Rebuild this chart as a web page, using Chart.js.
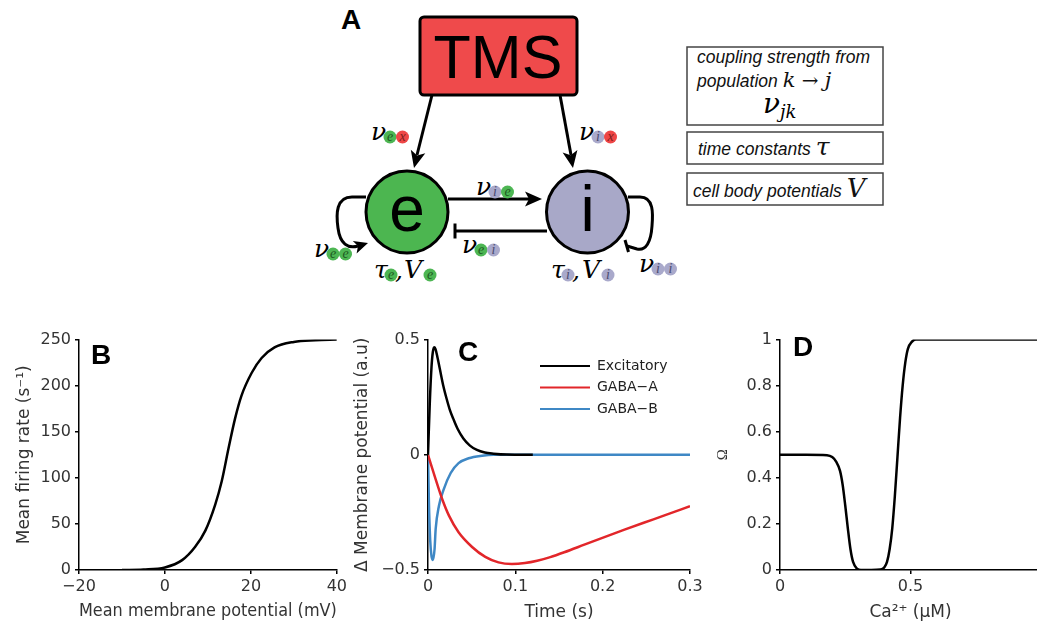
<!DOCTYPE html>
<html>
<head>
<meta charset="utf-8">
<script src="https://cdn.jsdelivr.net/npm/chart.js@4.4.0/dist/chart.umd.min.js"></script>
<style>
body { margin:0; background:#fff; width:1037px; height:629px; overflow:hidden; position:relative; }
canvas { position:absolute; }
svg { position:absolute; left:0; top:0; }
.lbl { position:absolute; font:bold 28px 'Liberation Sans'; line-height:28px; color:#000; }
.m { font:italic 25px 'DejaVu Serif'; fill:#000; }
.s { font:italic 14px 'Liberation Serif'; text-anchor:middle; }
.bx { font:italic 17.5px 'Liberation Sans'; fill:#111; }
</style>
</head>
<body>
<svg id="diagram" width="1037" height="320"></svg>
<canvas id="chartB" width="350" height="300" style="left:0;top:326px"></canvas>
<canvas id="chartC" width="365" height="300" style="left:345px;top:326px"></canvas>
<canvas id="chartD" width="350" height="300" style="left:700px;top:326px"></canvas>
<div class="lbl" style="left:341px;top:6px">A</div>
<div class="lbl" style="left:91px;top:341px">B</div>
<div class="lbl" style="left:458px;top:338px">C</div>
<div class="lbl" style="left:793px;top:333px">D</div>
<script>
// B: sigmoid firing rate
var bVoltage = [-10, -5, 0, 4, 7, 9.4, 11.7, 13.2, 14.8, 16.3, 17.8, 20.2, 22.5, 25.5, 30, 35, 40];
var bRate = [0, 0.5, 2.8, 10.7, 24.9, 42.7, 71, 96, 132, 164, 189, 214, 230, 241.5, 247.5, 249.3, 250];

// C: postsynaptic responses
var excTime = [0, 0.002, 0.004, 0.0055, 0.007, 0.0085, 0.011, 0.0137, 0.0175, 0.0214, 0.025, 0.029, 0.034, 0.0405, 0.048, 0.056, 0.065, 0.075, 0.09, 0.12];
var excValue = [0, 0.22, 0.38, 0.445, 0.467, 0.46, 0.42, 0.37, 0.3, 0.242, 0.195, 0.156, 0.112, 0.071, 0.04, 0.021, 0.01, 0.005, 0.001, 0];
var gabaATime = [0, 0.0088, 0.0163, 0.024, 0.035, 0.0505, 0.0656, 0.0807, 0.096, 0.111, 0.125, 0.14, 0.156, 0.179, 0.202, 0.225, 0.247, 0.27, 0.3];
var gabaAValue = [0, -0.107, -0.193, -0.264, -0.336, -0.4, -0.443, -0.467, -0.474, -0.47, -0.46, -0.444, -0.423, -0.39, -0.357, -0.325, -0.295, -0.264, -0.223];
var gabaBTime = [0, 0.001, 0.0025, 0.004, 0.0057, 0.0075, 0.0088, 0.0125, 0.018, 0.026, 0.035, 0.0466, 0.062, 0.075, 0.3];
var gabaBValue = [0, -0.2, -0.37, -0.44, -0.457, -0.41, -0.321, -0.222, -0.15, -0.079, -0.036, -0.015, -0.004, 0, 0];
var seriesNames = ['Excitatory', 'GABA\u2212A', 'GABA\u2212B'];

// D: plasticity function
var dCalcium = [0, 0.1, 0.18, 0.2, 0.215, 0.23, 0.24, 0.25, 0.26, 0.27, 0.28, 0.295, 0.31, 0.35, 0.385, 0.4, 0.41, 0.42, 0.43, 0.44, 0.45, 0.46, 0.47, 0.48, 0.49, 0.505, 0.52, 0.6, 0.8, 1.0];
var dOmega = [0.5, 0.5, 0.498, 0.49, 0.47, 0.43, 0.37, 0.28, 0.18, 0.09, 0.035, 0.006, 0, 0, 0.002, 0.012, 0.035, 0.09, 0.18, 0.32, 0.49, 0.66, 0.8, 0.9, 0.96, 0.99, 1, 1, 1, 1];

function pts(xs, ys) { return xs.map(function(x, i) { return {x: x, y: ys[i]}; }); }
function fmt(v) { return String(+v.toFixed(3)).replace('-', '\u2212'); }

var tickFont = {family: 'DejaVu Sans', size: 16};
var titleFont = {family: 'DejaVu Sans', size: 17};

function scale(min, max, step, title, size, isX, titlePad, tFont) {
  return {
    type: 'linear', min: min, max: max,
    ticks: {stepSize: step, color: '#333', font: tickFont, padding: isX ? 3 : 4, maxRotation: 0, autoSkip: false, callback: fmt},
    grid: {drawOnChartArea: false, drawTicks: true, tickLength: 4, color: '#000', lineWidth: 1.5},
    border: {display: true, color: '#000', width: 1.5},
    title: {display: true, text: title, color: '#333', font: tFont || titleFont,
            padding: isX ? {top: 0, bottom: titlePad} : {top: titlePad, bottom: 0}},
    afterFit: function(s) { if (isX) s.height = size; else s.width = size; }
  };
}

function line(label, data, color) {
  return {label: label, data: data, borderColor: color, borderWidth: 2.5, pointRadius: 0,
          fill: false, cubicInterpolationMode: 'monotone'};
}

var common = {
  responsive: false, animation: false, devicePixelRatio: 1,
  plugins: {legend: {display: false}, tooltip: {enabled: false}}
};

new Chart(document.getElementById('chartB'), {
  type: 'line',
  data: {datasets: [line('rate', pts(bVoltage, bRate), '#000')]},
  options: Object.assign({}, common, {
    layout: {padding: {top: 10, right: 11, left: 0, bottom: 0}},
    scales: {
      x: scale(-20, 40, 20, 'Mean membrane potential (mV)', 56, true, 4),
      y: scale(0, 250, 50, 'Mean firing rate (s\u207B\u00B9)', 79, false, 14)
    }
  })
});

var legendLines = {
  id: 'legendLines',
  afterDraw: function(chart) {
    var ctx = chart.ctx;
    ctx.save();
    ctx.font = '14px "DejaVu Sans"';
    ctx.textBaseline = 'middle';
    chart.data.datasets.forEach(function(ds, i) {
      var y = 40 + i * 21.5;
      ctx.strokeStyle = ds.borderColor;
      ctx.lineWidth = 2;
      ctx.beginPath(); ctx.moveTo(195, y); ctx.lineTo(245, y); ctx.stroke();
      ctx.fillStyle = '#222';
      ctx.fillText(ds.label, 252, y);
    });
    ctx.restore();
  }
};

new Chart(document.getElementById('chartC'), {
  type: 'line',
  data: {datasets: [
    line(seriesNames[0], pts(excTime, excValue), '#000'),
    line(seriesNames[1], pts(gabaATime, gabaAValue), '#e2262a'),
    line(seriesNames[2], pts(gabaBTime, gabaBValue), '#3f88c5')
  ]},
  options: Object.assign({}, common, {
    layout: {padding: {top: 10, right: 20, left: 0, bottom: 0}},
    scales: {
      x: scale(0, 0.3, 0.1, 'Time (s)', 56, true, 3),
      y: scale(-0.5, 0.5, 0.5, '\u0394 Membrane potential (a.u)', 83, false, 7)
    }
  }),
  plugins: [legendLines]
});

new Chart(document.getElementById('chartD'), {
  type: 'line',
  data: {datasets: [line('omega', pts(dCalcium, dOmega), '#000')]},
  options: Object.assign({}, common, {
    layout: {padding: {top: 10, right: 9, left: 0, bottom: 0}},
    scales: {
      x: scale(0, 1, 0.5, 'Ca\u00B2\u207A (\u03BCM)', 56, true, 3),
      y: scale(0, 1, 0.2, '\u03A9', 80, false, 14, {family: 'Liberation Serif', size: 15})
    }
  })
});

// diagram A
var blob = {e: ['#4db653', '#1d5a22'], i: ['#a9a9cb', '#4b4b70'], x: ['#ee4646', '#7d1c1c']};
function sym(ch, x, y, subs, off) {
  var s = '<text x="' + x + '" y="' + y + '" class="m">' + ch + '</text>';
  subs.split('').forEach(function(c, k) {
    var cx = x + (off || 19) + 12.5 * k, cy = y - 3;
    s += '<circle cx="' + cx + '" cy="' + cy + '" r="6.5" fill="' + blob[c][0] + '"/>';
    s += '<text x="' + cx + '" y="' + (cy + 4) + '" class="s" fill="' + blob[c][1] + '">' + c + '</text>';
  });
  return s;
}

var svg = '';
svg += '<rect x="420" y="17" width="157" height="78" rx="4" fill="#ef4a4b" stroke="#000" stroke-width="3"/>';
svg += '<text x="498" y="78" text-anchor="middle" style="font:61px \'Liberation Sans\'">TMS</text>';
svg += '<g stroke="#000" stroke-width="3" fill="none">' +
  '<line x1="432" y1="95" x2="417" y2="155"/>' +
  '<line x1="560" y1="95" x2="571" y2="155"/>' +
  '<line x1="448" y1="199" x2="529" y2="199"/>' +
  '<line x1="547" y1="231" x2="455" y2="231"/>' +
  '<line x1="455" y1="223.5" x2="455" y2="238.5"/>' +
  '<path d="M366 197 L352 197 C336 197 336 214 338 228 C340 244 348 249 358 246"/>' +
  '<path d="M628 197 L640 197 C654 197 653 214 652 226 C651 242 646 251 637 249 L627 246"/>' +
  '<line x1="625" y1="240" x2="628.5" y2="252"/>' +
  '</g>';
svg += '<g fill="#000">' +
  '<polygon points="414,168 425.3,153.3 417.1,155.4 410.8,149.7"/>' +
  '<polygon points="573,168 577.4,149.9 570.7,155.2 562.6,152.6"/>' +
  '<polygon points="542,199 525,206.5 529,199 525,191.5"/>' +
  '<polygon points="368,243 356.6,253.4 358,246.1 352.8,241"/>' +
  '</g>';
svg += '<circle cx="407" cy="212" r="41" fill="#4cb650" stroke="#000" stroke-width="3"/>';
svg += '<circle cx="587.5" cy="212" r="41" fill="#a8a8c8" stroke="#000" stroke-width="3"/>';
svg += '<text x="407" y="231" text-anchor="middle" style="font:64px \'Liberation Sans\'">e</text>';
svg += '<text x="587.5" y="231" text-anchor="middle" style="font:64px \'Liberation Sans\'">i</text>';
svg += sym('\u03BD', 371, 140, 'ex');
svg += sym('\u03BD', 579, 140, 'ix');
svg += sym('\u03BD', 476, 195, 'ie');
svg += sym('\u03BD', 462, 253, 'ei');
svg += sym('\u03BD', 314, 257, 'ee');
svg += sym('\u03BD', 639, 272, 'ii');
svg += sym('\u03C4', 374, 278, 'e', 17) + '<text x="395" y="279" class="m">,</text>' + sym('V', 404, 278, 'e', 26);
svg += sym('\u03C4', 551, 278, 'i', 17) + '<text x="572" y="279" class="m">,</text>' + sym('V', 582, 278, 'i', 26);

// legend boxes
svg += '<g fill="none" stroke="#444" stroke-width="1.5">' +
  '<rect x="687" y="47" width="196" height="78"/>' +
  '<rect x="687" y="132" width="196" height="32"/>' +
  '<rect x="687" y="173" width="196" height="32"/></g>';
svg += '<text x="697" y="63" class="bx">coupling strength from</text>';
svg += '<text x="697" y="87" class="bx">population <tspan style="font:italic 21px \'DejaVu Serif\'">k</tspan>' +
  '<tspan style="font:20px \'DejaVu Serif\'"> \u2192 </tspan><tspan style="font:italic 21px \'DejaVu Serif\'">j</tspan></text>';
svg += '<text x="763" y="113" style="font:italic 28px \'DejaVu Serif\'">\u03BD<tspan dy="5" style="font:italic 18px \'DejaVu Serif\'">jk</tspan></text>';
svg += '<text x="698" y="155" class="bx">time constants <tspan style="font:italic 25px \'DejaVu Serif\'">\u03C4</tspan></text>';
svg += '<text x="693" y="197" class="bx">cell body potentials <tspan style="font:italic 26px \'DejaVu Serif\'">V</tspan></text>';
document.getElementById('diagram').innerHTML = svg;
</script>
</body>
</html>
